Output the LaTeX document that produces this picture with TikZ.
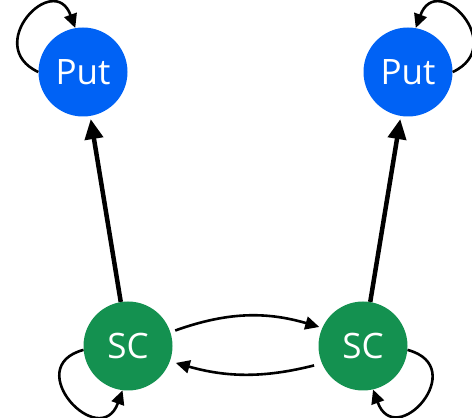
\documentclass[tikz,border=0pt]{standalone}
\usepackage{fontspec}
\setmainfont{Open Sans}
\usetikzlibrary{arrows.meta}
\definecolor{putblue}{RGB}{0,98,245}
\definecolor{scgreen}{RGB}{20,145,80}

\begin{document}
\begin{tikzpicture}[x=1pt,y=1pt,
  state/.style={circle, minimum size=89pt, inner sep=0pt, text=white, font=\fontsize{35}{40}\selectfont},
  bigarrow/.style={-{Triangle[length=20pt,width=18pt]}, line width=4.5pt},
  thinarrow/.style={-{Triangle[length=14pt,width=13pt]}, line width=2.6pt}]
\useasboundingbox (0,0) rectangle (472,418);
% states
\node[state, fill=putblue] (putl) at (83,346) {Put};
\node[state, fill=putblue] (putr) at (408,346) {Put};
\node[state, fill=scgreen] (scl) at (128,72) {SC};
\node[state, fill=scgreen] (scr) at (363,72) {SC};
% SC up to Put
\draw[bigarrow, shorten >=3pt] (scl) -- (putl);
\draw[bigarrow, shorten >=3pt] (scr) -- (putr);
% back and forth between the SC states
\draw[thinarrow, shorten <=5pt, shorten >=3pt] (scl.18) to[bend left=18] (scr.156);
\draw[thinarrow, shorten <=8pt, shorten >=6pt] (scr.203) to[bend left=15] (scl.340);
% self loops
\draw[thinarrow] (putl.180) to[out=155,in=110,distance=62pt] (putl.100);
\draw[thinarrow] (putr.0) to[out=25,in=70,distance=62pt] (putr.80);
\draw[thinarrow] (scl.185) to[out=195,in=250,distance=66pt] (scl.263);
\draw[thinarrow] (scr.355) to[out=345,in=290,distance=66pt] (scr.283);
\end{tikzpicture}
\end{document}
